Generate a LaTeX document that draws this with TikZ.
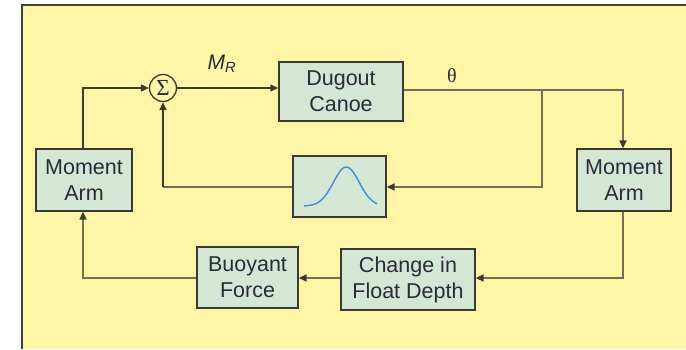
\documentclass[tikz,border=0pt]{standalone}
\usepackage{fontspec}
\setmainfont{Liberation Sans}
\newfontfamily\serifsym{Liberation Serif}
\usetikzlibrary{arrows.meta}
\definecolor{bgy}{HTML}{FFF5A6}
\definecolor{boxg}{HTML}{D4E7D5}
\definecolor{lineg}{HTML}{746F52}
\definecolor{lined}{HTML}{3C3A30}
\definecolor{txt}{HTML}{2A2A38}
\definecolor{curve}{HTML}{3A90D4}
\tikzset{
  blk/.style={draw=lined, line width=1.3pt, fill=boxg, minimum width=#1, align=center,
    font=\fontsize{21.5}{26}\selectfont, text=txt, inner sep=0pt},
  conn/.style={draw=lineg, line width=1.6pt},
  darkconn/.style={draw=lined, line width=1.4pt},
  arr/.style={-{Triangle[length=8pt,width=7pt,color=lined]}},
}
\begin{document}
\begin{tikzpicture}[x=1pt,y=-1pt]
\useasboundingbox (0,0) rectangle (686,349);
\fill[white] (0,0) rectangle (686,349);
\fill[bgy] (22,5) rectangle (686,349);
\draw[draw=black!75, line width=2pt] (22,349) -- (22,5) -- (686,5);
% nodes
\node[circle, draw=lined, line width=1.3pt, minimum size=27pt, inner sep=0pt, font=\serifsym\fontsize{23}{24}\selectfont, text=txt] (sig) at (163,88) {Σ};
\node[blk=124pt, minimum height=59pt] (canoe) at (341,91.5) {Dugout\\Canoe};
\node[blk=93pt, minimum height=61pt] (filt) at (339.5,186.5) {};
\node[blk=94pt, minimum height=62pt] (mr) at (624,180) {Moment\\Arm};
\node[blk=96pt, minimum height=62pt] (ml) at (84,180) {Moment\\Arm};
\node[blk=134pt, minimum height=61pt] (cfd) at (408,279.5) {Change in\\Float Depth};
\node[blk=101pt, minimum height=61pt] (bf) at (247.5,277.5) {Buoyant\\Force};
% labels
\node[font=\fontsize{21}{24}\selectfont\itshape, text=txt] (mrlab) at (222,64) {M\textsubscript{R}};
\node[font=\serifsym\fontsize{20}{22}\selectfont, text=txt] (thlab) at (452,76) {θ};
% bell curve
\draw[curve, line width=1.4pt] plot[domain=0:1, samples=60] ({304+73*\x},{206-39*exp(-((\x-0.58)/0.25)^2)});
% coordinates
\coordinate (jb) at (542,90);
\coordinate (jr) at (623,90);
\coordinate (jf) at (542,187);
\coordinate (js) at (163,187);
\coordinate (jd) at (623,278);
\coordinate (jl) at (83,278);
\coordinate (jt) at (83,88);
% connectors
\draw[darkconn, arr] (sig.east) -- (sig.east -| canoe.west);
\draw[conn] (canoe.east |- jb) -- (jb);
\draw[conn, arr] (jb) -- (jr) -- (mr.north -| jr);
\draw[conn, arr] (jb) -- (jf) -- (filt.east |- jf);
\draw[conn] (filt.west |- js) -- (js);
\draw[darkconn, arr] (js) -- (sig.south);
\draw[conn, arr] (mr.south -| jd) -- (jd) -- (cfd.east |- jd);
\draw[conn, arr] (cfd.west |- jd) -- (bf.east |- jd);
\draw[conn, arr] (bf.west |- jl) -- (jl) -- (ml.south -| jl);
\draw[darkconn, arr] (ml.north -| jt) -- (jt) -- (sig.west);
\end{tikzpicture}
\end{document}
